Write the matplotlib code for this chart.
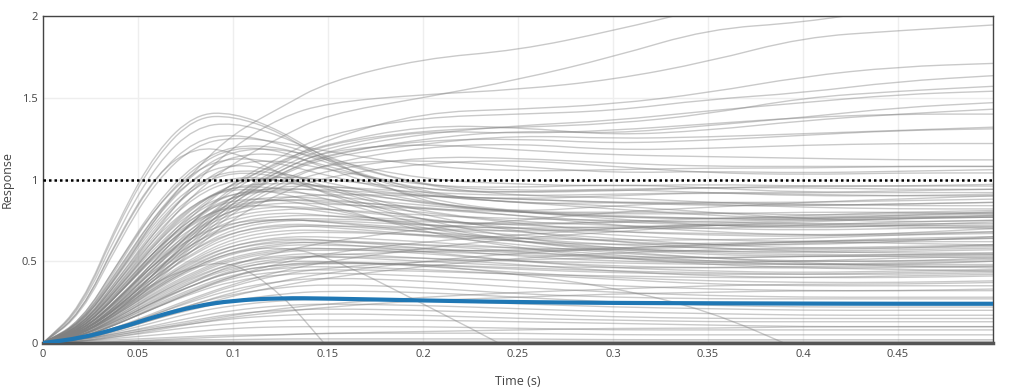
import numpy as np
import matplotlib
matplotlib.use("Agg")
import matplotlib.pyplot as plt
from matplotlib.path import Path
from matplotlib.patches import PathPatch

plt.rcParams['font.family'] = ['Open Sans', 'DejaVu Sans']

# sample times of every response curve (s)
t = [0, .02, .04, .06, .08, .10, .125, .15, .20, .25, .30, .35, .40, .45, .50]

# nominal response (blue)
nominal = [0, .03, .09, .165, .225, .26, .275, .272, .26, .25, .245, .243, .241, .24, .24]

# fast, strongly overshooting responses
fast = [
    [0, .22, .76, 1.18, 1.40, 1.41, 1.30, 1.12, .85, .80, .84, .86, .85, .84, .84],
    [0, .21, .74, 1.15, 1.38, 1.39, 1.29, 1.10, .90, .88, .90, .92, .91, .90, .90],
    [0, .20, .70, 1.10, 1.32, 1.35, 1.27, 1.13, .96, .93, .94, .95, .95, .94, .94],
    [0, .18, .65, 1.03, 1.24, 1.28, 1.22, 1.12, 1.0, .97, .96, .97, .96, .96, .96],
    [0, .17, .62, 1.00, 1.21, 1.26, 1.23, 1.17, 1.08, 1.05, 1.06, 1.07, 1.07, 1.08, 1.08],
    [0, .18, .66, 1.04, 1.20, 1.17, 1.04, .90, .74, .72, .74, .74, .73, .73, .73],
]

# responses that keep climbing above 1
upper = [
    [0, .12, .42, .78, 1.06, 1.28, 1.44, 1.60, 1.74, 1.79, 1.91, 2.05, 2.2, 2.3, 2.4],
    [0, .10, .36, .66, .92, 1.10, 1.26, 1.40, 1.50, 1.61, 1.75, 1.92, 1.96, 2.05, 2.1],
    [0, .10, .38, .70, .98, 1.20, 1.38, 1.47, 1.52, 1.55, 1.61, 1.72, 1.87, 1.91, 1.945],
    [0, .08, .30, .58, .82, .98, 1.10, 1.25, 1.41, 1.43, 1.46, 1.53, 1.63, 1.69, 1.71],
    [0, .08, .30, .56, .80, .98, 1.14, 1.28, 1.38, 1.40, 1.42, 1.49, 1.53, 1.60, 1.635],
    [0, .07, .27, .52, .76, .94, 1.10, 1.22, 1.30, 1.32, 1.34, 1.40, 1.50, 1.54, 1.57],
    [0, .07, .26, .50, .72, .90, 1.06, 1.18, 1.28, 1.33, 1.36, 1.42, 1.47, 1.52, 1.54],
    [0, .06, .24, .48, .70, .88, 1.04, 1.15, 1.25, 1.30, 1.28, 1.33, 1.38, 1.44, 1.47],
    [0, .07, .27, .52, .76, .96, 1.12, 1.22, 1.33, 1.32, 1.27, 1.30, 1.36, 1.40, 1.43],
    [0, .06, .24, .47, .70, .90, 1.08, 1.20, 1.30, 1.28, 1.30, 1.34, 1.38, 1.40, 1.40],
    [0, .06, .22, .44, .66, .86, 1.03, 1.14, 1.22, 1.27, 1.25, 1.26, 1.28, 1.30, 1.32],
    [0, .06, .22, .44, .66, .86, 1.04, 1.16, 1.24, 1.25, 1.22, 1.24, 1.27, 1.30, 1.31],
    [0, .05, .20, .40, .62, .82, .98, 1.10, 1.20, 1.22, 1.18, 1.19, 1.21, 1.22, 1.22],
    [0, .06, .22, .44, .68, .88, 1.06, 1.18, 1.22, 1.18, 1.15, 1.14, 1.13, 1.12, 1.12],
    [0, .05, .20, .40, .60, .80, .96, 1.06, 1.14, 1.13, 1.10, 1.08, 1.08, 1.08, 1.08],
    [0, .05, .20, .42, .64, .84, 1.00, 1.10, 1.12, 1.08, 1.04, 1.05, 1.04, 1.05, 1.06],
    [0, .05, .18, .38, .58, .76, .92, 1.02, 1.10, 1.12, 1.08, 1.04, 1.03, 1.04, 1.04],
]

# peak near 1.2 around 0.11 s, settling below 1
peaked = [
    [0, .13, .50, .86, 1.10, 1.21, 1.20, 1.10, .92, .85, .86, .85, .83, .82, .82],
    [0, .12, .48, .84, 1.08, 1.20, 1.18, 1.06, .88, .80, .80, .80, .78, .79, .80],
    [0, .12, .46, .80, 1.05, 1.18, 1.19, 1.12, .96, .90, .89, .86, .84, .85, .86],
    [0, .11, .44, .78, 1.02, 1.15, 1.16, 1.08, .93, .92, .94, .92, .90, .90, .91],
    [0, .13, .50, .84, 1.06, 1.14, 1.10, 1.02, .90, .86, .84, .80, .76, .74, .75],
    [0, .10, .40, .72, .96, 1.10, 1.12, 1.06, .96, .95, .97, .95, .92, .93, .94],
    [0, .11, .42, .74, .96, 1.05, 1.02, .94, .78, .68, .62, .58, .56, .55, .55],
    [0, .10, .40, .70, .92, 1.02, 1.00, .92, .75, .64, .58, .55, .54, .54, .54],
    [0, .09, .36, .64, .86, .96, .95, .88, .72, .62, .57, .54, .53, .53, .52],
    [0, .10, .38, .66, .86, .95, .92, .84, .68, .58, .52, .49, .48, .48, .48],
    [0, .08, .32, .58, .78, .88, .88, .82, .70, .62, .56, .52, .49, .47, .46],
    [0, .12, .45, .80, 1.02, 1.10, 1.05, .95, .80, .74, .72, .70, .69, .70, .71],
    [0, .11, .43, .76, .98, 1.06, 1.04, .98, .86, .80, .77, .76, .77, .78, .79],
    [0, .09, .34, .62, .82, .92, .93, .90, .84, .80, .77, .76, .76, .77, .77],
]

# bulk of the responses
middle = [
    [0, .10, .38, .68, .90, 1.00, 1.00, .95, .85, .80, .78, .76, .75, .76, .77],
    [0, .09, .35, .63, .85, .96, .98, .96, .90, .86, .82, .78, .76, .78, .80],
    [0, .09, .34, .60, .80, .92, .95, .93, .86, .80, .76, .72, .70, .72, .74],
    [0, .08, .32, .58, .78, .90, .94, .94, .90, .88, .86, .84, .84, .85, .86],
    [0, .08, .30, .55, .75, .86, .90, .88, .82, .78, .74, .72, .71, .72, .72],
    [0, .08, .30, .54, .72, .84, .88, .86, .80, .73, .68, .66, .65, .67, .70],
    [0, .07, .28, .52, .70, .82, .86, .85, .82, .80, .79, .79, .80, .80, .79],
    [0, .07, .27, .50, .68, .80, .84, .82, .76, .70, .66, .63, .62, .63, .64],
    [0, .07, .26, .48, .66, .78, .82, .82, .78, .76, .75, .74, .76, .77, .78],
    [0, .07, .26, .46, .64, .76, .80, .78, .72, .68, .64, .60, .58, .58, .59],
    [0, .06, .24, .44, .62, .74, .78, .78, .75, .72, .70, .70, .72, .74, .75],
    [0, .06, .24, .44, .60, .72, .76, .74, .68, .62, .58, .56, .55, .56, .57],
    [0, .06, .23, .42, .58, .70, .75, .75, .72, .70, .68, .67, .66, .67, .68],
    [0, .06, .22, .40, .56, .68, .73, .72, .68, .64, .60, .58, .57, .58, .60],
    [0, .06, .22, .40, .55, .66, .71, .72, .70, .66, .62, .60, .60, .62, .65],
    [0, .05, .21, .38, .53, .64, .69, .69, .66, .60, .55, .52, .50, .50, .52],
    [0, .05, .20, .37, .52, .62, .67, .68, .66, .64, .63, .63, .64, .66, .68],
    [0, .05, .20, .36, .50, .60, .65, .65, .62, .58, .54, .50, .48, .48, .50],
    [0, .05, .19, .35, .48, .58, .63, .63, .60, .58, .57, .56, .56, .57, .58],
    [0, .05, .18, .34, .47, .56, .61, .62, .60, .56, .52, .48, .46, .46, .47],
    [0, .05, .18, .33, .46, .55, .60, .60, .58, .55, .53, .52, .53, .54, .55],
    [0, .04, .17, .32, .44, .53, .58, .58, .55, .50, .46, .44, .43, .44, .45],
    [0, .04, .16, .30, .42, .51, .56, .57, .56, .54, .52, .50, .50, .50, .51],
    [0, .04, .16, .29, .40, .49, .54, .55, .52, .48, .44, .41, .40, .40, .41],
    [0, .04, .15, .28, .39, .47, .52, .53, .52, .50, .49, .48, .48, .49, .50],
    [0, .04, .15, .27, .38, .46, .50, .50, .47, .43, .40, .38, .37, .37, .38],
    [0, .04, .14, .26, .36, .44, .48, .49, .48, .46, .44, .43, .42, .42, .43],
    [0, .03, .13, .24, .34, .42, .46, .47, .45, .42, .39, .36, .35, .35, .35],
    [0, .03, .12, .22, .32, .40, .44, .45, .44, .42, .41, .40, .40, .41, .42],
    [0, .03, .12, .22, .31, .38, .42, .43, .41, .38, .35, .33, .32, .32, .33],
    [0, .04, .14, .26, .38, .48, .56, .62, .70, .75, .80, .83, .86, .88, .90],
    [0, .03, .12, .22, .32, .41, .49, .55, .62, .66, .70, .73, .75, .76, .77],
    [0, .03, .10, .19, .28, .36, .44, .50, .58, .64, .68, .72, .74, .76, .78],
    [0, .02, .08, .16, .24, .31, .38, .43, .50, .55, .58, .60, .62, .63, .64],
    [0, .02, .08, .15, .22, .29, .35, .40, .47, .52, .55, .57, .58, .59, .60],
    [0, .09, .33, .58, .76, .84, .84, .80, .72, .70, .71, .72, .72, .71, .70],
    [0, .08, .31, .56, .74, .85, .88, .87, .83, .78, .72, .68, .66, .66, .67],
    [0, .07, .28, .50, .66, .74, .76, .74, .70, .68, .70, .72, .73, .72, .71],
    [0, .06, .25, .46, .62, .72, .76, .76, .74, .73, .74, .76, .78, .80, .81],
    [0, .06, .23, .42, .58, .68, .72, .71, .66, .62, .60, .61, .62, .61, .60],
    [0, .05, .20, .37, .51, .60, .64, .63, .58, .53, .50, .49, .50, .52, .53],
    [0, .05, .19, .35, .49, .58, .62, .61, .56, .50, .47, .46, .46, .45, .44],
    [0, .04, .17, .31, .43, .52, .57, .58, .57, .56, .57, .59, .61, .62, .62],
    [0, .04, .16, .30, .41, .49, .53, .53, .50, .47, .46, .46, .47, .47, .47],
    [0, .03, .13, .25, .36, .45, .51, .54, .56, .57, .58, .60, .62, .64, .65],
    [0, .07, .27, .50, .69, .82, .89, .91, .90, .88, .86, .86, .86, .87, .88],
    [0, .08, .30, .55, .76, .90, .96, .96, .92, .90, .91, .92, .92, .92, .92],
    [0, .09, .34, .62, .84, .98, 1.02, 1.00, .94, .92, .93, .95, .96, .96, .97],
    [0, .03, .12, .23, .33, .41, .47, .49, .48, .45, .43, .42, .42, .43, .44],
    [0, .02, .09, .18, .27, .35, .42, .46, .50, .51, .52, .52, .53, .53, .54],
]

# low-gain responses, some falling through zero
low = [
    [0, .03, .10, .18, .26, .33, .38, .40, .38, .34, .31, .29, .28, .28, .28],
    [0, .03, .09, .17, .24, .30, .34, .36, .34, .30, .28, .27, .27, .27, .27],
    [0, .02, .08, .15, .21, .26, .30, .32, .31, .28, .25, .23, .22, .22, .22],
    [0, .02, .07, .13, .19, .23, .26, .27, .26, .24, .22, .21, .20, .20, .20],
    [0, .02, .06, .11, .16, .20, .23, .24, .23, .21, .19, .18, .17, .17, .17],
    [0, .02, .06, .10, .14, .18, .20, .21, .20, .18, .16, .15, .15, .15, .15],
    [0, .01, .05, .09, .12, .15, .17, .18, .17, .15, .14, .13, .13, .13, .13],
    [0, .01, .04, .07, .10, .12, .14, .14, .14, .13, .12, .11, .10, .10, .10],
    [0, .01, .03, .05, .07, .09, .10, .10, .10, .09, .08, .08, .08, .08, .08],
    [0, .01, .02, .03, .04, .05, .05, .06, .06, .06, .05, .05, .05, .05, .05],
    [0, .005, .01, .015, .02, .02, .025, .025, .025, .025, .02, .02, .02, .02, .02],
    [0, 0, .005, .01, .01, .01, .01, .01, .01, .01, .01, .01, .01, .01, .01],
    [0, 0, .01, .02, .03, .04, .05, .06, .07, .08, .09, .09, .10, .10, .10],
    [0, .01, .04, .08, .12, .16, .19, .22, .26, .28, .30, .31, .32, .32, .32],
    [0, .02, .05, .09, .13, .17, .21, .24, .28, .31, .33, .35, .36, .36, .37],
    [0, .06, .22, .38, .47, .50, .31, -.03, -.7, -1.4, -2, -2, -2, -2, -2],
    [0, .05, .18, .34, .47, .56, .59, .53, .24, -.06, -.4, -.8, -1, -1, -1],
    [0, .04, .14, .26, .36, .44, .48, .50, .48, .42, .34, .20, -.05, -.3, -.55],
]


def smooth_line(ax, x, y, **kw):
    # draw a curve through the samples with quadratic segments (like a spline line shape)
    pts = np.column_stack([x, y])
    verts = [pts[0], (pts[0] + pts[1]) / 2]
    codes = [Path.MOVETO, Path.LINETO]
    for i in range(1, len(pts) - 1):
        verts += [pts[i], (pts[i] + pts[i + 1]) / 2]
        codes += [Path.CURVE3, Path.CURVE3]
    verts.append(pts[-1])
    codes.append(Path.LINETO)
    ax.add_patch(PathPatch(Path(verts, codes), facecolor='none', **kw))


fig = plt.figure(figsize=(10.35, 3.87), dpi=100)
ax = fig.add_axes([43 / 1035, 44 / 387, 950 / 1035, 327 / 387])

for group in [fast, upper, peaked, middle, low]:
    for y in group:
        smooth_line(ax, t, y, edgecolor='#808080', alpha=0.42, lw=1)

smooth_line(ax, t, nominal, edgecolor='#1f77b4', lw=3, zorder=5)
ax.axhline(1, color='black', lw=1.8, ls=(0, (1, 1.2)), zorder=6)

ax.set_xlim(0, 0.5)
ax.set_ylim(0, 2)
ax.set_xticks(np.arange(0, 0.46, 0.05))
ax.set_xticklabels(['0', '0.05', '0.1', '0.15', '0.2', '0.25', '0.3', '0.35', '0.4', '0.45'])
ax.set_yticks([0, 0.5, 1, 1.5, 2])
ax.set_yticklabels(['0', '0.5', '1', '1.5', '2'])
ax.tick_params(length=0, labelsize=8, colors='#444444', pad=4)
ax.grid(True, color='#eeeeee', lw=1)
ax.set_axisbelow(True)

for s in ['top', 'left', 'right']:
    ax.spines[s].set_color('#444444')
    ax.spines[s].set_linewidth(1)
ax.spines['bottom'].set_color('#555555')
ax.spines['bottom'].set_linewidth(2.5)

ax.set_xlabel('Time (s)', fontsize=9, color='#444444')
ax.set_ylabel('Response', fontsize=9, color='#444444')
ax.xaxis.set_label_coords(0.5, -0.098)
ax.yaxis.set_label_coords(-0.031, 0.5)

fig.savefig('out.png', dpi=100)
